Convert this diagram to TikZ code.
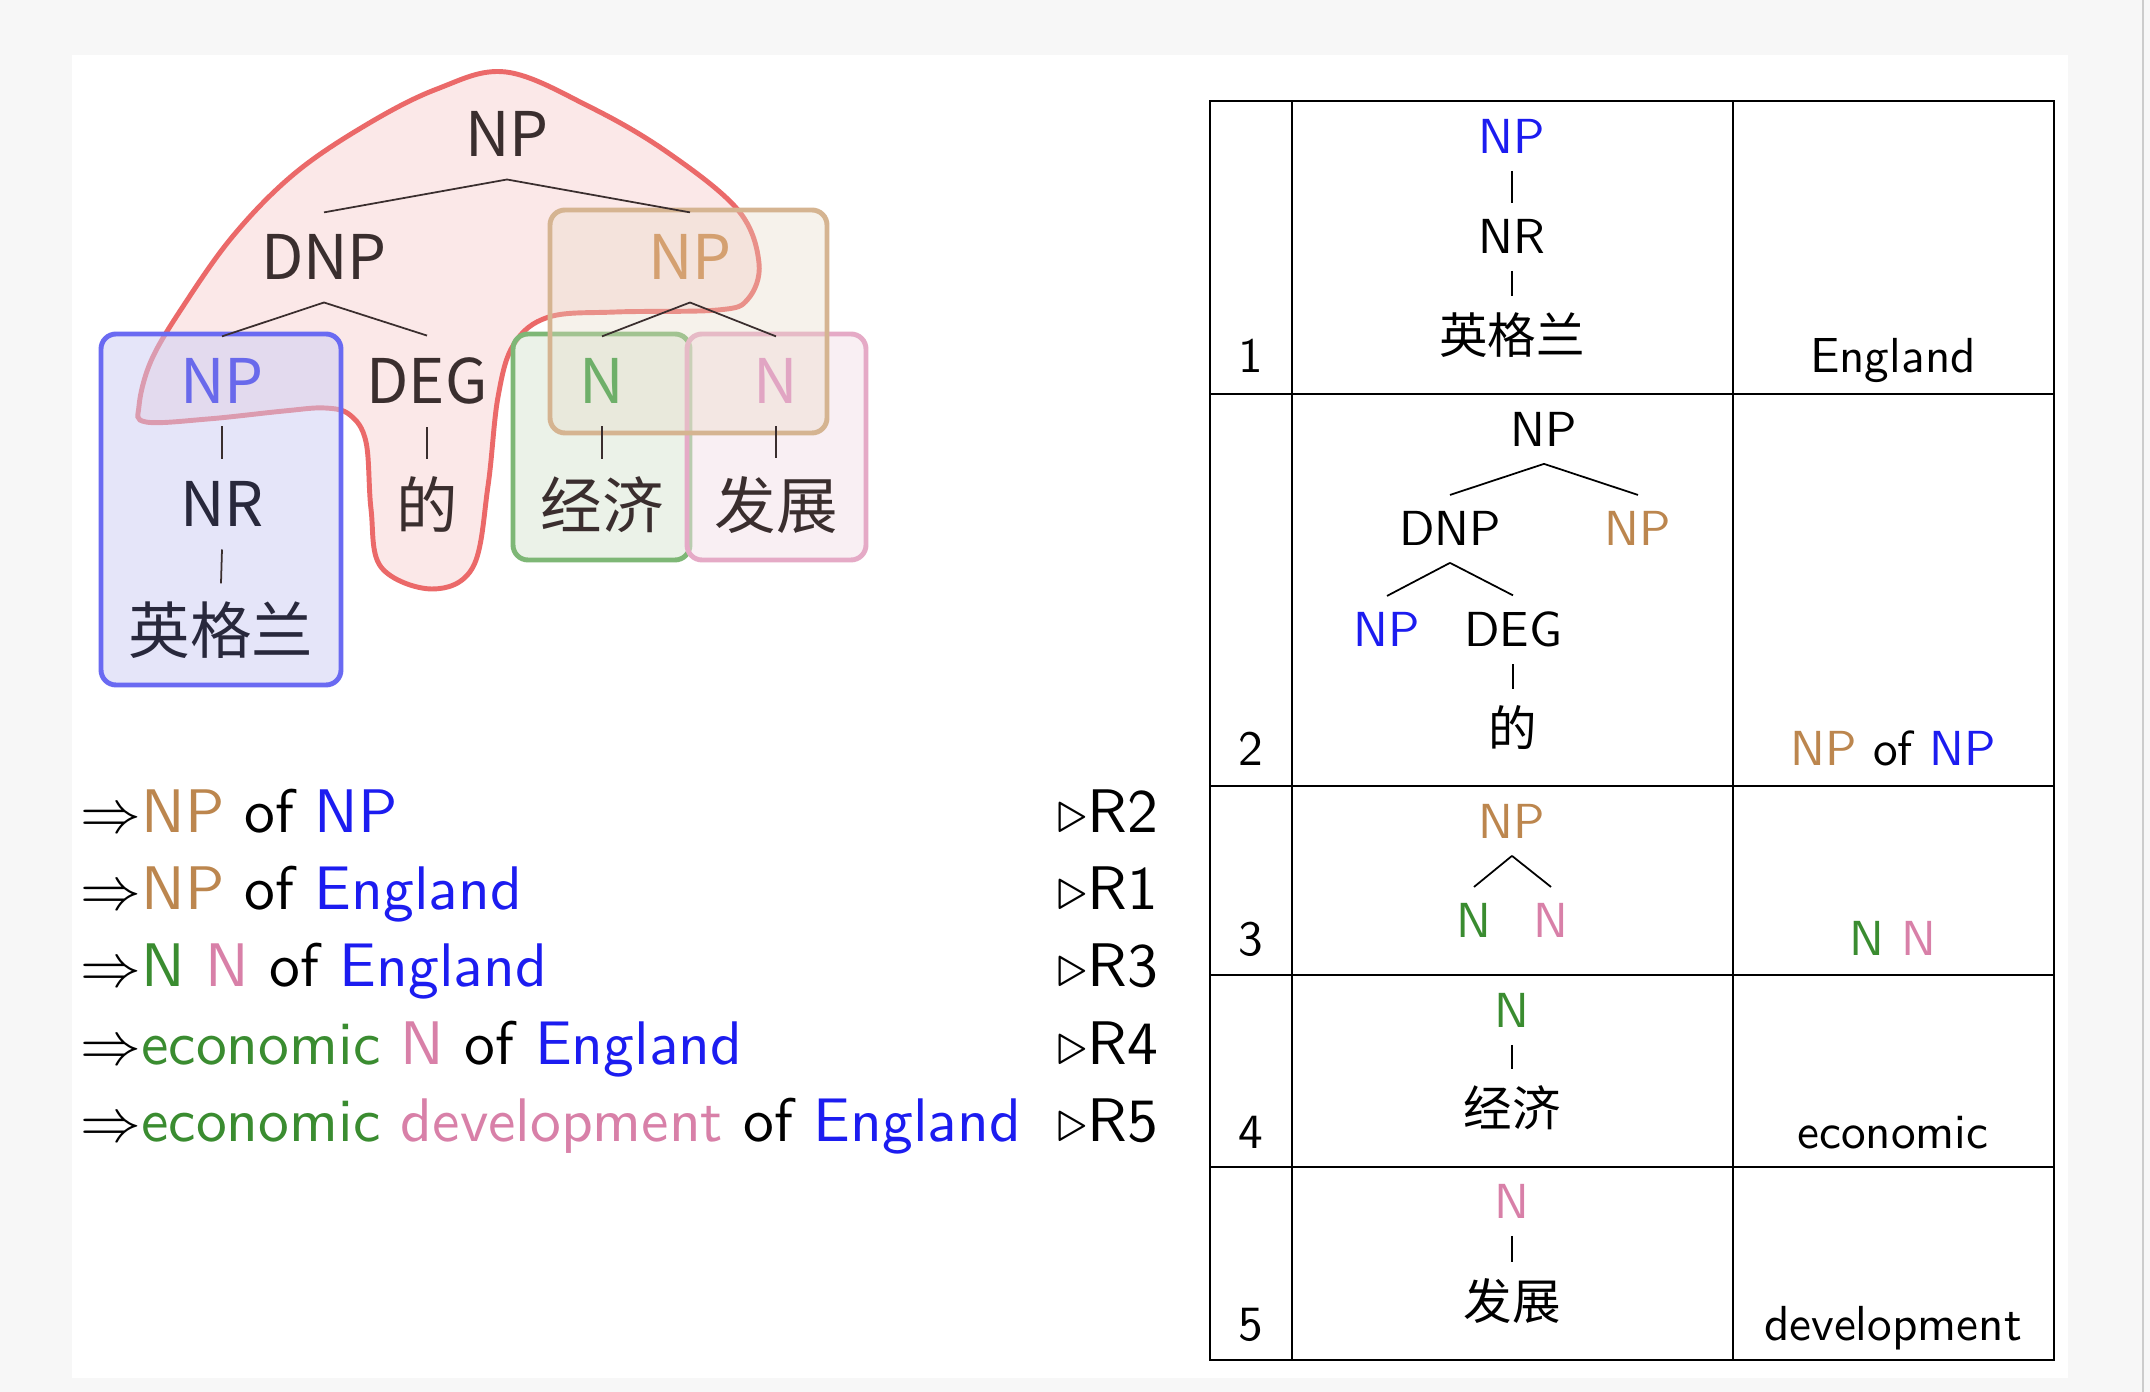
\documentclass[tikz,border=0pt]{standalone}
\usepackage{fontspec}
\setsansfont{lmsans10-regular.otf}
\newfontfamily\cjk{Noto Sans CJK SC}
\usetikzlibrary{positioning}
\definecolor{pagegrey}{RGB}{247,247,247}
\definecolor{npblue}{RGB}{28,28,240}
\definecolor{npbrown}{RGB}{188,134,78}
\definecolor{ngreen}{RGB}{58,140,48}
\definecolor{npink}{RGB}{216,128,168}
\definecolor{treeink}{RGB}{58,46,46}
\definecolor{blobline}{RGB}{235,105,105}
\definecolor{blobfill}{RGB}{251,232,232}
\tikzset{
  bigtree/.style={font=\cjk\fontsize{17.5}{21}\selectfont, inner sep=6.2pt, anchor=base, text=treeink},
  bigchar/.style={font=\cjk\fontsize{17.5}{21}\selectfont, inner sep=5pt, text=treeink},
  branch/.style={draw=treeink, line width=0.5pt},
  tabtree/.style={font=\sffamily\fontsize{14}{16}\selectfont, inner sep=4.6pt, anchor=base},
  tabchar/.style={font=\cjk\fontsize{13.8}{16}\selectfont, inner sep=4.6pt},
  tabtext/.style={font=\sffamily\fontsize{14}{16}\selectfont, inner sep=0pt, anchor=base},
  derivation/.style={font=\sffamily\fontsize{17.5}{21}\selectfont, inner sep=0pt, anchor=base west},
  spanbox/.style={line width=1.4pt, rounded corners=0.15cm, fill opacity=0.5}
}

\begin{document}
\begin{tikzpicture}[x=0.01cm,y=-0.01cm]
\useasboundingbox (0,0) rectangle (2150,1392);
\fill[pagegrey] (0,0) rectangle (2150,1392);
\fill[white] (72,55) rectangle (2068,1378);
\draw[gray!40, line width=0.8pt] (2143,0) -- (2143,1392);

% highlighted spans over the tree
\draw[blobline, fill=blobfill, line width=1.4pt] plot[smooth cycle, tension=0.6] coordinates {
  (506,72) (590,107) (667,152) (738,210) (759,263) (748,299) (718,310) (616,312)
  (549,317) (514,344) (498,397) (488,486) (473,567) (432,589) (381,567) (371,509)
  (366,442) (350,415) (325,408) (284,411) (208,419) (146,422) (139,406) (151,361)
  (182,308) (233,236) (294,174) (366,125) (437,89)};
\draw[spanbox, draw={rgb,255:red,106;green,106;blue,242}, fill={rgb,255:red,205;green,205;blue,245}] (101,334) rectangle (341,685);
\draw[spanbox, draw={rgb,255:red,126;green,183;blue,118}, fill={rgb,255:red,217;green,231;blue,211}] (513,334) rectangle (690,560);
\draw[spanbox, draw={rgb,255:red,229;green,170;blue,198}, fill={rgb,255:red,245;green,225;blue,233}] (687,334) rectangle (866,560);
\draw[spanbox, draw={rgb,255:red,213;green,180;blue,145}, fill={rgb,255:red,232;green,218;blue,198}, fill opacity=0.35] (550,210) rectangle (827,433);

% parse tree
\node[bigtree] (tNP) at (507,157) {NP};
\node[bigtree] (tDNP) at (324,280) {DNP};
\node[bigtree, text={rgb,255:red,212;green,160;blue,112}] (tNPt) at (690,280) {NP};
\node[bigtree, text={rgb,255:red,105;green,105;blue,235}] (tNPb) at (222,404) {NP};
\node[bigtree] (tDEG) at (427,404) {DEG};
\node[bigtree, text={rgb,255:red,110;green,175;blue,105}] (tNg) at (602,404) {N};
\node[bigtree, text={rgb,255:red,225;green,165;blue,195}] (tNp) at (776,404) {N};
\node[bigtree, text={rgb,255:red,40;green,40;blue,60}] (tNR) at (222,527) {NR};
\node[bigchar] (tDe) at (427,505) {的};
\node[bigchar] (tJj) at (602,505) {经济};
\node[bigchar] (tFz) at (776,505) {发展};
\node[bigchar, text={rgb,255:red,40;green,40;blue,60}] (tYgl) at (221,630) {英格兰};
\draw[branch] (tNP.south) -- (tDNP.north);
\draw[branch] (tNP.south) -- (tNPt.north);
\draw[branch] (tDNP.south) -- (tNPb.north);
\draw[branch] (tDNP.south) -- (tDEG.north);
\draw[branch] (tNPt.south) -- (tNg.north);
\draw[branch] (tNPt.south) -- (tNp.north);
\draw[branch] (tNPb.south) -- (tNR.north);
\draw[branch] (tNR.south) -- (tYgl.north);
\draw[branch] (tDEG.south) -- (tDe.north);
\draw[branch] (tNg.south) -- (tJj.north);
\draw[branch] (tNp.south) -- (tFz.north);

% derivation steps
\node[derivation] (d1) at (80,833) {$\Rightarrow$\textcolor{npbrown}{NP} of \textcolor{npblue}{NP}};
\node[derivation] (d2) at (80,910) {$\Rightarrow$\textcolor{npbrown}{NP} of \textcolor{npblue}{England}};
\node[derivation] (d3) at (80,987) {$\Rightarrow$\textcolor{ngreen}{N} \textcolor{npink}{N} of \textcolor{npblue}{England}};
\node[derivation] (d4) at (80,1065) {$\Rightarrow$\textcolor{ngreen}{economic} \textcolor{npink}{N} of \textcolor{npblue}{England}};
\node[derivation] (d5) at (80,1142) {$\Rightarrow$\textcolor{ngreen}{economic} \textcolor{npink}{development} of \textcolor{npblue}{England}};
\node[derivation] (r1) at (1057,833) {$\triangleright$R2};
\node[derivation] (r2) at (1057,910) {$\triangleright$R1};
\node[derivation] (r3) at (1057,987) {$\triangleright$R3};
\node[derivation] (r4) at (1057,1065) {$\triangleright$R4};
\node[derivation] (r5) at (1057,1142) {$\triangleright$R5};

% rule table
\draw[line width=0.55pt] (1210,101) rectangle (2054,1360);
\draw[line width=0.55pt] (1292,101) -- (1292,1360) (1733,101) -- (1733,1360);
\foreach \y in {394,786,975,1167}
  \draw[line width=0.55pt] (1210,\y) -- (2054,\y);

\foreach \n/\y in {1/373,2/766,3/956,4/1149,5/1341}
  \node[tabtext] (k\n) at (1251,\y) {\n};
\node[tabtext] (e1) at (1893,373) {England};
\node[tabtext] (e2) at (1893,766) {\textcolor{npbrown}{NP} of \textcolor{npblue}{NP}};
\node[tabtext] (e3) at (1893,956) {\textcolor{ngreen}{N} \textcolor{npink}{N}};
\node[tabtext] (e4) at (1893,1149) {economic};
\node[tabtext] (e5) at (1893,1341) {development};

% rule 1
\node[tabtree, text=npblue] (aNP) at (1512,154) {NP};
\node[tabtree] (aNR) at (1512,254) {NR};
\node[tabchar] (aYgl) at (1512,335) {英格兰};
\draw[branch, draw=black] (aNP.south) -- (aNR.north);
\draw[branch, draw=black] (aNR.south) -- (aYgl.north);
% rule 2
\node[tabtree] (bNP) at (1544,447) {NP};
\node[tabtree] (bDNP) at (1450,546) {DNP};
\node[tabtree, text=npbrown] (bNPt) at (1638,546) {NP};
\node[tabtree, text=npblue] (bNPb) at (1387,647) {NP};
\node[tabtree] (bDEG) at (1513,647) {DEG};
\node[tabchar] (bDe) at (1513,728) {的};
\draw[branch, draw=black] (bNP.south) -- (bDNP.north);
\draw[branch, draw=black] (bNP.south) -- (bNPt.north);
\draw[branch, draw=black] (bDNP.south) -- (bNPb.north);
\draw[branch, draw=black] (bDNP.south) -- (bDEG.north);
\draw[branch, draw=black] (bDEG.south) -- (bDe.north);
% rule 3
\node[tabtree, text=npbrown] (cNP) at (1512,839) {NP};
\node[tabtree, text=ngreen] (cNg) at (1474,938) {N};
\node[tabtree, text=npink] (cNp) at (1551,938) {N};
\draw[branch, draw=black] (cNP.south) -- (cNg.north);
\draw[branch, draw=black] (cNP.south) -- (cNp.north);
% rule 4
\node[tabtree, text=ngreen] (dN) at (1512,1028) {N};
\node[tabchar] (dJj) at (1512,1108) {经济};
\draw[branch, draw=black] (dN.south) -- (dJj.north);
% rule 5
\node[tabtree, text=npink] (fN) at (1512,1219) {N};
\node[tabchar] (fFz) at (1512,1301) {发展};
\draw[branch, draw=black] (fN.south) -- (fFz.north);
\end{tikzpicture}
\end{document}
